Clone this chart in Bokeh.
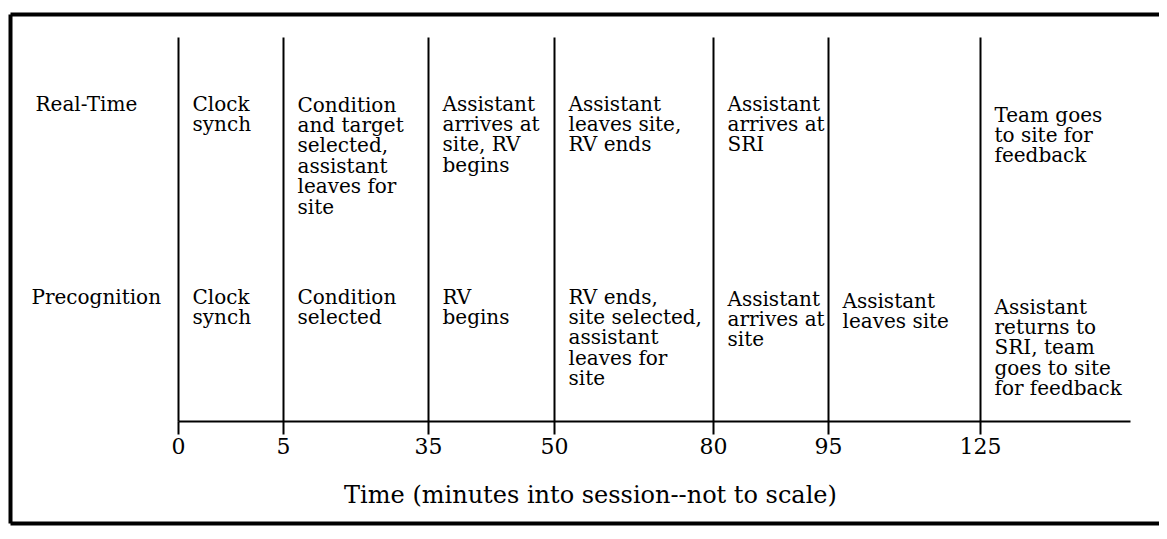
from bokeh.plotting import figure
from bokeh.models import Range1d, LinearAxis, FixedTicker, ColumnDataSource
from bokeh.core.properties import value
from bokeh.embed import file_html
from bokeh.resources import INLINE

# ---------------- data ----------------
times = [0, 5, 35, 50, 80, 95, 125]
tick_labels = ["0", "5", "35", "50", "80", "95", "125"]
row_names = ["Real-Time", "Precognition"]
realtime_events = [
    "Clock\nsynch",
    "Condition\nand target\nselected,\nassistant\nleaves for\nsite",
    "Assistant\narrives at\nsite, RV\nbegins",
    "Assistant\nleaves site,\nRV ends",
    "Assistant\narrives at\nSRI",
    "",
    "Team goes\nto site for\nfeedback",
]
precog_events = [
    "Clock\nsynch",
    "Condition\nselected",
    "RV\nbegins",
    "RV ends,\nsite selected,\nassistant\nleaves for\nsite",
    "Assistant\narrives at\nsite",
    "Assistant\nleaves site",
    "Assistant\nreturns to\nSRI, team\ngoes to site\nfor feedback",
]
axis_title = "Time (minutes into session--not to scale)"

# ---------------- layout (axis is not to scale) ----------------
W, H = 1159, 530
SLOT_X = [178, 283, 428, 554, 713, 828, 980]   # screen slot of each time mark
AXIS_Y = 421
LINE_TOP = 37
AXIS_END = 1130
ROW_TOP = [91, 284]
RT_DY = [0, 1, 0, 0, 0, 0, 11]
PC_DY = [0, 0, 0, 0, 2, 4, 10]
TEXT_DX = 14
FONT = "DejaVu Serif"

slot = dict(zip(times, SLOT_X))

p = figure(width=W, height=H, output_backend="svg", toolbar_location=None,
           x_range=Range1d(0, W), y_range=Range1d(H, 0),
           min_border=0, outline_line_color=None)
p.xaxis.visible = False
p.yaxis.visible = False
p.xgrid.visible = False
p.ygrid.visible = False
p.background_fill_color = "white"
p.border_fill_color = "white"

# outer frame (right side cut off in the scan)
p.segment(x0=[10, 10, 10], y0=[14, 14, 523], x1=[10, 1163, 1163], y1=[523, 14, 523],
          line_color="black", line_width=4)

# vertical time markers
xs = [slot[t] for t in times]
p.segment(x0=xs, y0=[LINE_TOP] * len(xs), x1=xs, y1=[AXIS_Y] * len(xs),
          line_color="black", line_width=2)

# time axis
ax = LinearAxis(fixed_location=AXIS_Y, bounds=(slot[times[0]], AXIS_END),
                ticker=FixedTicker(ticks=xs),
                major_label_overrides={x: lab for x, lab in zip(xs, tick_labels)},
                axis_line_width=2, axis_line_color="black",
                major_tick_line_width=2, major_tick_line_color="black",
                major_tick_in=0, major_tick_out=13,
                minor_tick_line_color=None,
                major_label_standoff=3,
                major_label_text_font=FONT,
                major_label_text_font_size="22px",
                major_label_text_color="black")
p.add_layout(ax, "below")

# row labels
p.text(x=[35, 31], y=ROW_TOP, text=row_names, text_font=value(FONT),
       text_font_size="20px", text_baseline="top", text_align="left",
       text_color="black")

# event texts
src_rt = ColumnDataSource(dict(
    x=[slot[t] + TEXT_DX for t in times],
    y=[ROW_TOP[0] + d for d in RT_DY],
    text=realtime_events))
src_pc = ColumnDataSource(dict(
    x=[slot[t] + TEXT_DX for t in times],
    y=[ROW_TOP[1] + d for d in PC_DY],
    text=precog_events))
for src in (src_rt, src_pc):
    p.text(x="x", y="y", text="text", source=src, text_font=value(FONT),
           text_font_size="20px", text_baseline="top", text_align="left",
           text_line_height=0.85, text_color="black")

# axis title
p.text(x=[590], y=[494], text=[axis_title], text_font=value(FONT),
       text_font_size="24px", text_baseline="middle", text_align="center",
       text_color="black")

open("out.html", "w").write(file_html(p, INLINE))
